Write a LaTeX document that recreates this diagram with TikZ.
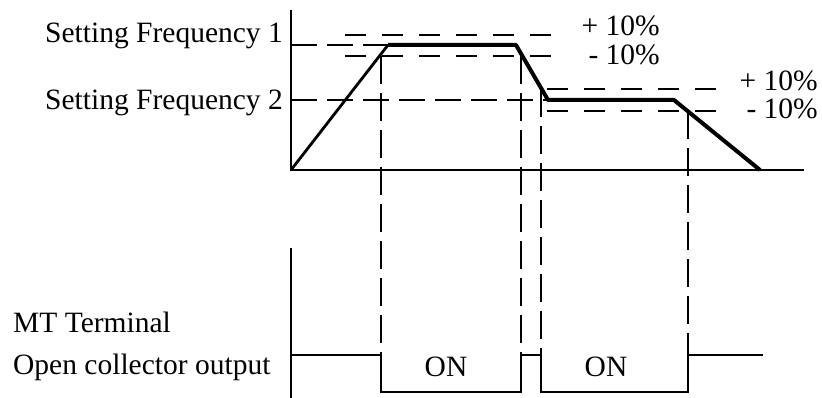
\documentclass[tikz,border=0pt]{standalone}
\usepackage{fontspec}
\setmainfont{Liberation Serif}
\usepackage{tikz}

\begin{document}
\begin{tikzpicture}[
  x=1pt, y=-1pt,
  lbl/.style={font=\fontsize{29.5}{34}\selectfont, inner sep=0pt},
  axis/.style={line width=1.5pt},
  level/.style={line width=1.5pt, dash pattern=on 26pt off 10pt},
  band/.style={line width=1.5pt, dash pattern=on 21pt off 16pt},
  guide/.style={line width=1.5pt, dash pattern=on 28pt off 9pt},
  freq/.style={line width=4pt, line join=round},
  sig/.style={line width=1.5pt}
]
\useasboundingbox (0,0) rectangle (822,398);
% key points of the frequency curve
\coordinate (o) at (291,170);
\coordinate (f1a) at (388,45);
\coordinate (f1b) at (516,45);
\coordinate (f2a) at (548,100);
\coordinate (f2b) at (674,100);
\coordinate (stop) at (760,170);
% crossings with the +/-10% bands
\coordinate (c1) at (381,56);
\coordinate (c2) at (521,56);
\coordinate (c3) at (541,89);
\coordinate (c4) at (688,111);
% output levels
\coordinate (hi) at (291,355);
\coordinate (lo) at (291,392);

% Upper axes
\draw[axis] (291,10) -- (o) -- (804,170);
% Setting levels
\draw[level] (291,45) -- (f1a);
\draw[level] (291,100) -- (f2a);
% Bands around frequency 1
\draw[band] (345,35) -- (557,35);
\draw[band] (345,56) -- (557,56);
% Bands around frequency 2
\draw[band] (547,89) -- (717,89);
\draw[band] (547,111) -- (717,111);

% Frequency curve
\draw[line width=2.8pt] (o) -- (f1a);
\draw[freq] (f1a) -- (f1b) -- (f2a) -- (f2b) -- (stop);

% Guides down to the output
\foreach \c in {c1,c2,c3,c4}
  \draw[guide] (\c) -- (\c |- hi);

% Lower axis and output signal
\draw[axis] (291,248) -- (291,398);
\draw[sig] (hi) -- (c1 |- hi) -- (c1 |- lo) -- (c2 |- lo) -- (c2 |- hi)
  -- (c3 |- hi) -- (c3 |- lo) -- (c4 |- lo) -- (c4 |- hi) -- (763,355);

% Labels
\node[lbl, anchor=base east] (lf1) at (283,43) {Setting Frequency 1};
\node[lbl, anchor=base east] (lf2) at (283,110) {Setting Frequency 2};
\node[lbl, anchor=base east] (p1) at (660,36) {+ 10\%};
\node[lbl, anchor=base east] (m1) at (660,65) {- 10\%};
\node[lbl, anchor=base east] (p2) at (818,91) {+ 10\%};
\node[lbl, anchor=base east] (m2) at (818,119) {- 10\%};
\node[lbl, anchor=base west] (mt) at (13,332) {MT Terminal};
\node[lbl, anchor=base west] (oc) at (13,374) {Open collector output};
\node[lbl, anchor=base] (on1) at (446,376) {ON};
\node[lbl, anchor=base] (on2) at (606,376) {ON};
\end{tikzpicture}
\end{document}
